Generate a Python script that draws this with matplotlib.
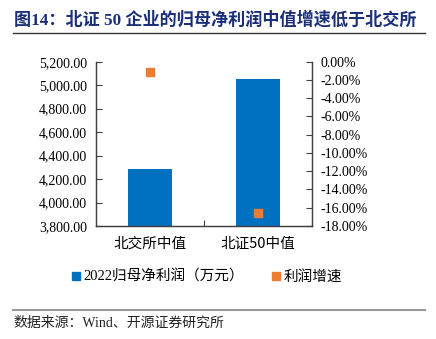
import matplotlib
matplotlib.use("Agg")
import matplotlib.pyplot as plt
from matplotlib.lines import Line2D
from matplotlib.ticker import FuncFormatter, FixedLocator

plt.rcParams['font.family'] = ['Liberation Serif', 'Noto Sans CJK SC', 'DejaVu Sans']
plt.rcParams['axes.unicode_minus'] = False

categories = ["北交所中值", "北证50中值"]
profit_2022 = [4286, 5055]          # 2022归母净利润（万元）
profit_growth = [-1.1, -16.6]       # 利润增速（%）
left_ticks = [3800, 4000, 4200, 4400, 4600, 4800, 5000, 5200]
right_ticks = [0, -2, -4, -6, -8, -10, -12, -14, -16, -18]

title = "图14：北证 50 企业的归母净利润中值增速低于北交所"
source = "数据来源：Wind、开源证券研究所"
series_names = ["2022归母净利润（万元）", "利润增速"]

BLUE = "#0070C0"
ORANGE = "#ED7D31"
SPINE = "#404040"

fig = plt.figure(figsize=(4.36, 3.39), dpi=100)
ax = fig.add_axes([0.2195, 0.3333, 0.4968, 0.4847])
ax2 = ax.twinx()

x = list(range(len(categories)))
ax.bar(x, profit_2022, width=0.4, color=BLUE, zorder=2)
ax2.plot(x, profit_growth, linestyle="none", marker="s", markersize=6,
         color=ORANGE, zorder=3)

ax.set_xlim(-0.5, len(categories) - 0.5)
ax.set_ylim(left_ticks[0], left_ticks[-1])
ax.yaxis.set_major_locator(FixedLocator(left_ticks))
ax.yaxis.set_major_formatter(FuncFormatter(lambda v, p: f"{v:,.2f}"))

ax2.set_ylim(min(right_ticks), max(right_ticks))
ax2.yaxis.set_major_locator(FixedLocator(right_ticks))
ax2.yaxis.set_major_formatter(FuncFormatter(lambda v, p: f"{v:.2f}%"))

# category labels as minor ticks, boundaries as major ticks
ax.set_xticks([0.5])
ax.set_xticklabels([""])
ax.set_xticks(x, minor=True)
ax.set_xticklabels(categories, minor=True, fontsize=10.5,
                   family=['Noto Sans CJK SC'])
ax.tick_params(axis='x', which='minor', length=0, pad=8)
ax.tick_params(axis='x', which='major', direction='in', length=4,
               color=SPINE)

ax.tick_params(axis='y', direction='in', length=4, labelsize=10,
               color=SPINE, pad=6)
ax2.tick_params(axis='y', direction='in', length=4, labelsize=10,
                color=SPINE, pad=6)

for a in (ax, ax2):
    a.spines['top'].set_visible(False)
    for s in ('left', 'right', 'bottom'):
        a.spines[s].set_color(SPINE)
        a.spines[s].set_linewidth(0.9)

handles = [
    Line2D([], [], linestyle="none", marker="s", markersize=6, color=BLUE),
    Line2D([], [], linestyle="none", marker="s", markersize=6, color=ORANGE),
]
fig.legend(handles, series_names, loc="center", ncol=2, frameon=False,
           bbox_to_anchor=(0.473, 0.183), fontsize=10.5, handletextpad=0.1,
           columnspacing=1.8, handlelength=0.8)

fig.text(0.032, 0.94, title, fontsize=12.3, fontweight="bold",
         color="#1A2F78", va="center", ha="left")
fig.add_artist(Line2D([0.03, 0.975], [0.9027, 0.9027], color="#333333",
                      linewidth=1.0, transform=fig.transFigure))
fig.add_artist(Line2D([0.03, 0.975], [0.0855, 0.0855], color="#999999",
                      linewidth=1.5, transform=fig.transFigure))
fig.text(0.032, 0.048, source, fontsize=10, color="#222222",
         va="center", ha="left")

fig.savefig("out.png", dpi=100)
